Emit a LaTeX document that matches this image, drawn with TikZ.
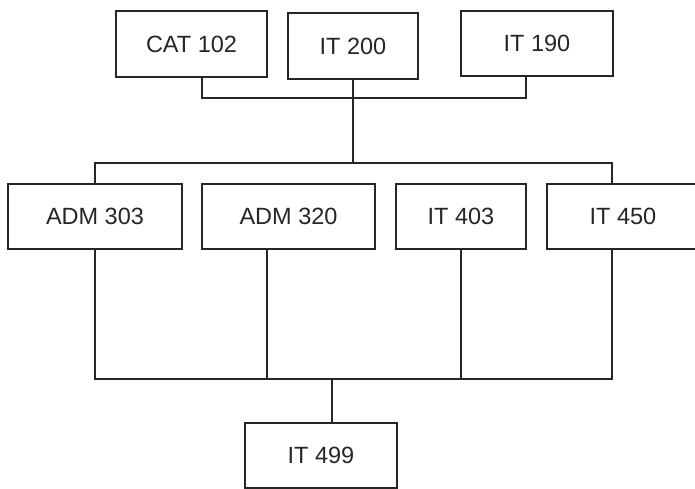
\documentclass[tikz,border=0pt]{standalone}
\usepackage{fontspec}
\setmainfont{Liberation Sans}
\begin{document}
\begin{tikzpicture}[x=1pt,y=-1pt,
  course/.style={draw=black!85,line width=1.6pt,rectangle,inner sep=0pt,
    font=\fontsize{23.5}{28}\selectfont,text=black!85},
  link/.style={draw=black!85,line width=1.5pt}]
\useasboundingbox (0,0) rectangle (695,489);
\node[course,minimum width=151pt,minimum height=66pt] (cat) at (191.5,44) {CAT 102};
\node[course,minimum width=130pt,minimum height=66pt] (it200) at (353,46) {IT 200};
\node[course,minimum width=152pt,minimum height=65pt] (it190) at (537,43.5) {IT 190};
\node[course,minimum width=174pt,minimum height=65pt] (adm303) at (95,216.5) {ADM 303};
\node[course,minimum width=173pt,minimum height=65pt] (adm320) at (288.5,216.5) {ADM 320};
\node[course,minimum width=130pt,minimum height=65pt] (it403) at (461,216.5) {IT 403};
\node[course,minimum width=166pt,minimum height=65pt] (it450) at (630,216.5) {\hspace*{-14pt}IT 450};
\node[course,minimum width=152pt,minimum height=65pt] (it499) at (321,455.5) {IT 499};
% top junctions
\coordinate (ja) at (202,98);
\coordinate (jb) at (526,98);
\coordinate (jc) at (353,98);
\coordinate (jd) at (353,163);
\coordinate (je) at (95,163);
\coordinate (jf) at (612,163);
% bottom junctions
\coordinate (ka) at (95,379);
\coordinate (kb) at (267,379);
\coordinate (kc) at (461,379);
\coordinate (kd) at (612,379);
\coordinate (ke) at (332,379);
\draw[link] (cat.south -| ja) -- (ja) -- (jb) -- (it190.south -| jb);
\draw[link] (it200.south -| jc) -- (jd);
\draw[link] (adm303.north -| je) -- (je) -- (jf) -- (it450.north -| jf);
\draw[link] (adm303.south -| ka) -- (ka) -- (kd) -- (it450.south -| kd);
\draw[link] (adm320.south -| kb) -- (kb);
\draw[link] (it403.south -| kc) -- (kc);
\draw[link] (ke) -- (it499.north -| ke);
\end{tikzpicture}
\end{document}
